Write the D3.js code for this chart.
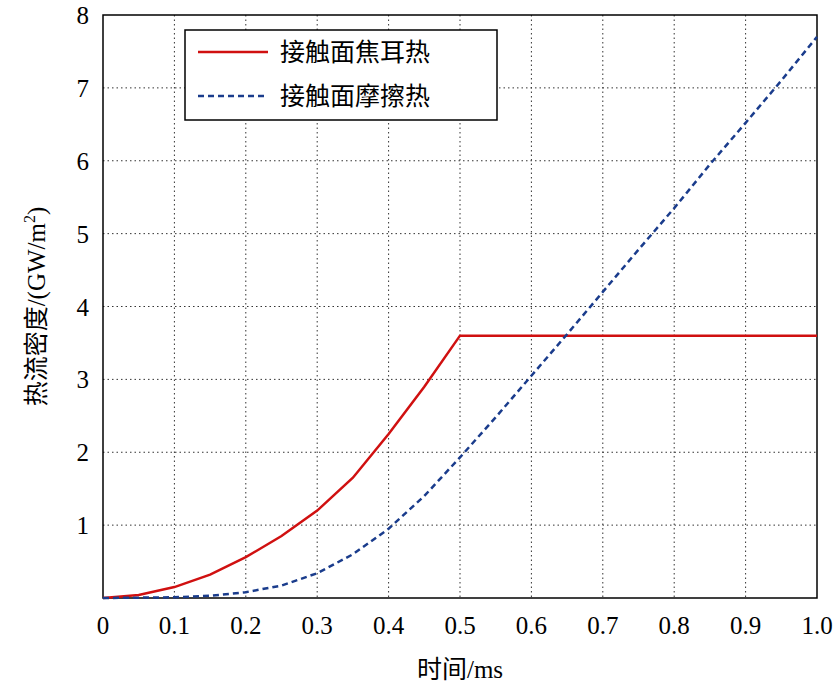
<!DOCTYPE html>
<html><head><meta charset="utf-8">
<script src="https://cdn.jsdelivr.net/npm/d3@7"></script>
<style>body{margin:0;background:#fff}</style>
</head><body>
<svg id="c" width="837" height="689"></svg>
<script>
var xTicks = [0, 0.1, 0.2, 0.3, 0.4, 0.5, 0.6, 0.7, 0.8, 0.9, 1.0];
var yTicks = [1, 2, 3, 4, 5, 6, 7, 8];
var jouleX = [0, 0.05, 0.1, 0.15, 0.2, 0.25, 0.3, 0.35, 0.4, 0.45, 0.5, 1.0];
var jouleY = [0, 0.04, 0.15, 0.32, 0.56, 0.85, 1.2, 1.65, 2.25, 2.9, 3.6, 3.6];
var fricX = [0, 0.1, 0.15, 0.2, 0.25, 0.3, 0.35, 0.4, 0.45, 0.5, 0.55, 0.6, 0.65, 0.7, 0.75, 0.8, 0.85, 0.9, 0.95, 1.0];
var fricY = [0, 0.01, 0.03, 0.08, 0.17, 0.34, 0.6, 0.95, 1.4, 1.93, 2.48, 3.05, 3.62, 4.2, 4.78, 5.35, 5.95, 6.52, 7.1, 7.7];
var names = ["接触面焦耳热", "接触面摩擦热"];

var svg = d3.select("#c");
var L = 103, R = 817, T = 15, B = 598;
var x = d3.scaleLinear().domain([0, 1]).range([L, R]);
var y = d3.scaleLinear().domain([0, 8]).range([B, T]);
var font = "'Liberation Serif','Times New Roman',serif";

// grid
svg.append("g").selectAll("line").data(xTicks.slice(1, -1)).enter().append("line")
    .attr("x1", x).attr("x2", x).attr("y1", T).attr("y2", B)
    .attr("stroke", "#333").attr("stroke-width", 1).attr("stroke-dasharray", "1.5,3");
svg.append("g").selectAll("line").data(yTicks.slice(0, -1)).enter().append("line")
    .attr("y1", y).attr("y2", y).attr("x1", L).attr("x2", R)
    .attr("stroke", "#333").attr("stroke-width", 1).attr("stroke-dasharray", "1.5,3");

svg.append("rect").attr("x", L).attr("y", T).attr("width", R - L).attr("height", B - T)
    .attr("fill", "none").attr("stroke", "#000").attr("stroke-width", 1.5);

// ticks
svg.append("g").selectAll("text").data(xTicks).enter().append("text")
    .attr("x", x).attr("y", B + 36).attr("text-anchor", "middle")
    .attr("font-family", font).attr("font-size", 25)
    .text(function (d) { return d === 0 ? "0" : d.toFixed(1); });
svg.append("g").selectAll("text").data(yTicks).enter().append("text")
    .attr("x", L - 14).attr("y", function (d) { return y(d) + 9; }).attr("text-anchor", "end")
    .attr("font-family", font).attr("font-size", 25).text(function (d) { return d; });

// axis labels
svg.append("text").attr("x", (L + R) / 2).attr("y", 678).attr("text-anchor", "middle")
    .attr("font-family", font).attr("font-size", 25)
    .html('<tspan font-family="Noto Sans CJK SC">时间</tspan>/ms');
svg.append("text").attr("transform", "translate(45," + ((T + B) / 2) + ") rotate(-90)")
    .attr("text-anchor", "middle").attr("font-family", font).attr("font-size", 25)
    .html('<tspan font-family="Noto Sans CJK SC">热流密度</tspan>/(GW/m<tspan dy="-10" font-size="16">2</tspan><tspan dy="10">)</tspan>');

// lines
var line = d3.line().x(function (d) { return x(d[0]); }).y(function (d) { return y(d[1]); });
svg.append("path").datum(d3.zip(jouleX, jouleY)).attr("d", line)
    .attr("fill", "none").attr("stroke", "#d01010").attr("stroke-width", 2.5);
svg.append("path").datum(d3.zip(fricX, fricY)).attr("d", line)
    .attr("fill", "none").attr("stroke", "#1a3c8c").attr("stroke-width", 2.5).attr("stroke-dasharray", "6,4");

// legend
var lg = svg.append("g");
lg.append("rect").attr("x", 185).attr("y", 30).attr("width", 312).attr("height", 90)
    .attr("fill", "#fff").attr("stroke", "#000").attr("stroke-width", 1.5);
var styles = [{ c: "#d01010", d: null }, { c: "#1a3c8c", d: "6,4" }];
names.forEach(function (n, i) {
    var yy = 52 + i * 44;
    lg.append("line").attr("x1", 198).attr("x2", 268).attr("y1", yy).attr("y2", yy)
        .attr("stroke", styles[i].c).attr("stroke-width", 2.5).attr("stroke-dasharray", styles[i].d);
    lg.append("text").attr("x", 280).attr("y", yy + 9).attr("font-family", "Noto Sans CJK SC")
        .attr("font-size", 25).text(n);
});
</script>
</body></html>
